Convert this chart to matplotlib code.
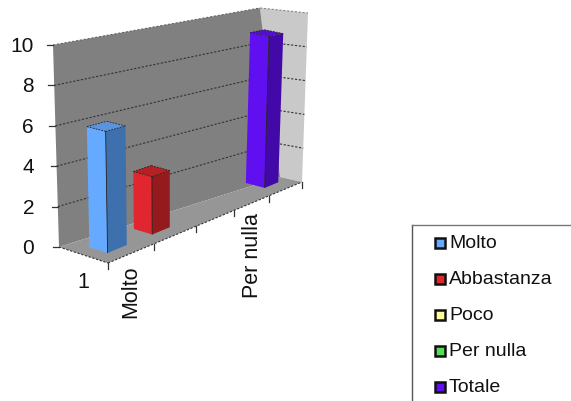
import matplotlib
matplotlib.use("Agg")
import matplotlib.pyplot as plt
import numpy as np

series = ["Molto", "Abbastanza", "Poco", "Per nulla", "Totale"]
values = [6, 3, 0, 0, 9]
y_ticks = [0, 2, 4, 6, 8, 10]
front_colors = ["#66AAFF", "#E0262E", "#FFFF99", "#55DD55", "#6010F0"]
side_colors = ["#3F70AE", "#951A1E", "#AAAA66", "#389438", "#4308A8"]
top_colors = ["#5B94DC", "#B52025", "#DDDD88", "#48BB48", "#5210CC"]

plt.rcParams["font.family"] = ["Liberation Sans", "DejaVu Sans"]
fig = plt.figure(figsize=(5.71, 4.01), dpi=100)
ax = fig.add_axes([0, 0, 1, 1])
ax.set_xlim(0, 571)
ax.set_ylim(401, 0)
ax.axis("off")

# box corners of the 3-D plot on screen: (slot end, depth end, value end)
WALLS = {(0, 0, 0): (108, 263), (0, 0, 1): (105, 56),
         (0, 1, 0): (59, 247), (0, 1, 1): (53, 45),
         (1, 0, 0): (302, 182), (1, 0, 1): (308, 13),
         (1, 1, 0): (280, 177), (1, 1, 1): (260, 8)}
BARS = dict(WALLS)
BARS[(1, 1, 0)] = (251, 169)
BARS[(1, 1, 1)] = (257, 8)
BARS[(1, 0, 1)] = (308, 18)
N = len(series)
YMAX = 10
PERSP = 1.242


def proj(slot, depth, value, C=WALLS):
    u = slot / N
    t = PERSP * u / (1 + (PERSP - 1) * u)
    v = value / YMAX
    p = np.zeros(2)
    for i, wi in ((0, 1 - t), (1, t)):
        for j, wj in ((0, 1 - depth), (1, depth)):
            for k, wk in ((0, 1 - v), (1, v)):
                p += wi * wj * wk * np.array(C[(i, j, k)])
    return p


def face(points, color, z, C=WALLS):
    xy = np.array([proj(*p, C) for p in points])
    ax.fill(xy[:, 0], xy[:, 1], color=color, ec="none", zorder=z)


def line(a, b, z=3, color="#333333", ls=(0, (2, 1.5)), lw=0.8, C=WALLS):
    xy = np.array([proj(*a, C), proj(*b, C)])
    ax.plot(xy[:, 0], xy[:, 1], color=color, ls=ls, lw=lw, zorder=z, solid_capstyle="butt")


# walls and floor
face([(N, 1, 0), (N, 0, 0), (N, 0, YMAX), (N, 1, YMAX)], "#C9C9C9", 1)
face([(0, 1, 0), (N, 1, 0), (N, 1, YMAX), (0, 1, YMAX)], "#808080", 1)
face([(0, 0, 0), (N, 0, 0), (N, 1, 0), (0, 1, 0)], "#969696", 1)

# gridlines
for v in y_ticks[1:-1]:
    line((0, 1, v), (N, 1, v))
    line((N, 1, v), (N, 0, v))
line((0, 1, YMAX), (N, 1, YMAX), color="#666666")
line((N, 1, YMAX), (N, 0, YMAX), color="#888888")
line((0, 1, 0), (0, 0, 0))
line((0, 0, 0), (N, 0, 0))

# value axis
for v in y_ticks:
    p = proj(0, 1, v)
    ax.plot([p[0] - 6, p[0]], [p[1], p[1]], color="#333333", lw=0.9, zorder=3)
    ax.text(34, p[1] + 1.5, str(v), ha="right", va="center", fontsize=15, color="#111111")

# slot ticks
for s in range(N + 1):
    p = proj(s, 0, 0)
    ax.plot([p[0], p[0]], [p[1], p[1] + 6], color="#333333", lw=0.9, zorder=3)

# bars
lo, hi = 0.28, 0.70
d0, d1 = 0.28, 0.65
for i, val in enumerate(values):
    if val == 0:
        continue
    a, b = i + lo, i + hi
    z = 5 + i
    face([(a, d0, 0), (a, d1, 0), (a, d1, val), (a, d0, val)], front_colors[i], z, BARS)
    face([(a, d0, 0), (b, d0, 0), (b, d0, val), (a, d0, val)], side_colors[i], z, BARS)
    face([(a, d0, val), (b, d0, val), (b, d1, val), (a, d1, val)], top_colors[i], z, BARS)
    line((a, d0, 0), (a, d0, val), z=z + 0.5, color="#222222", ls="-", lw=0.6, C=BARS)
    line((a, d0, val), (b, d0, val), z=z + 0.5, color="#222222", lw=0.6, C=BARS)
    line((a, d0, val), (a, d1, val), z=z + 0.5, color="#222222", lw=0.6, C=BARS)
    line((a, d1, val), (b, d1, val), z=z + 0.5, color="#222222", lw=0.6, C=BARS)
    line((b, d0, val), (b, d1, val), z=z + 0.5, color="#222222", lw=0.6, C=BARS)

# category labels
ax.text(83, 282, "1", ha="center", va="center", fontsize=15.5, color="#111111")
ax.text(131, 318, "Molto", rotation=90, ha="center", va="bottom", fontsize=15.5, color="#111111")
ax.text(252, 298, "Per nulla", rotation=90, ha="center", va="bottom", fontsize=15.5, color="#111111")

# legend frame
ax.plot([412, 412], [401, 224.5], color="#555555", lw=1)
ax.plot([412, 571], [224.5, 224.5], color="#777777", lw=1)
legend_ys = [243, 279, 315, 351, 386.5]
for name, c, yy in zip(series, front_colors, legend_ys):
    ax.add_patch(plt.Rectangle((434.5, yy - 5), 10, 10, fc=c, ec="#111111", lw=1.8))
    ax.text(449, yy + 0.5, name, ha="left", va="center", fontsize=14, color="#111111")

fig.savefig("out.png", dpi=100, facecolor="white")
